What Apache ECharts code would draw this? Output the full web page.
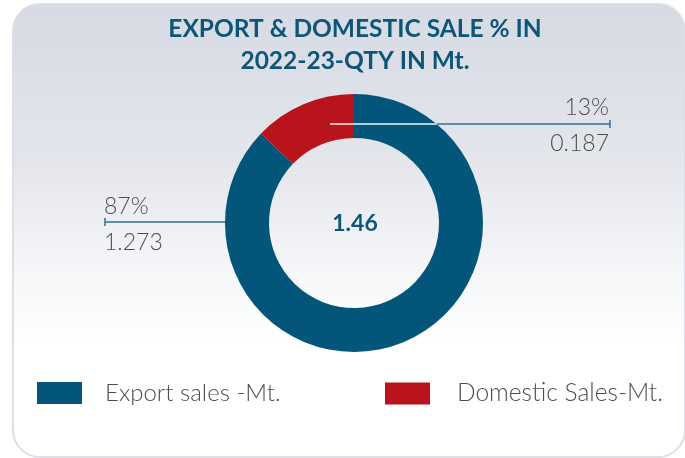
<!DOCTYPE html>
<html>
<head>
<meta charset="utf-8">
<script src="https://cdn.jsdelivr.net/npm/echarts@6/dist/echarts.min.js"></script>
<style>
  html, body { margin: 0; padding: 0; background: #ffffff; width: 685px; height: 458px; overflow: hidden; }
  #card {
    position: absolute; left: 12px; top: 3px; width: 670px; height: 451px;
    border: 2px solid #dcdee8; border-radius: 28px;
    background: linear-gradient(to bottom, #d6dae3 0%, #e4e6ec 35%, #f6f7f9 60%, #ffffff 75%, #ffffff 100%);
  }
  #chart { position: absolute; left: 0; top: 0; width: 685px; height: 458px; }
</style>
</head>
<body>
<div id="card"></div>
<div id="chart"></div>
<script>
// Sales quantities for 2022-23, in million tonnes
const categories = ['Export sales -Mt.', 'Domestic Sales-Mt.'];
const quantities = [1.273, 0.187];
const colors = ['#03557a', '#b9141b'];
const titleText = 'EXPORT & DOMESTIC SALE % IN\n2022-23-QTY IN Mt.';

const total = quantities.reduce((a, b) => a + b, 0);

// Ring geometry
const CX = 354, CY = 223, R_IN = 85, R_OUT = 129;
const LINE_COLOR = '#33708f';
const TICK = 4;

const labelFont = { fontFamily: 'Lato', fontWeight: 300, fontSize: 23, color: '#4d4d4d', lineHeight: 36 };

// Guide line for the export slice: from the ring's left edge out to the left text block.
// Guide line for the domestic slice: starts inside the ring, runs right to the text block.
const exportY = CY - 1;
const domY = CY - 99;
const domStartX = CX - 24;
const domEdgeX = CX + Math.sqrt(R_OUT * R_OUT - 99 * 99);
const leftEndX = 105, rightEndX = 610;

function mainLayout(p) {
  if (p.dataIndex === 0) {
    return {
      x: leftEndX - 1, y: exportY + 3, align: 'left', verticalAlign: 'middle',
      labelLinePoints: [[leftEndX, exportY - TICK], [leftEndX, exportY + TICK], [leftEndX, exportY], [CX - R_OUT, exportY]]
    };
  }
  return {
    x: rightEndX - 1, y: domY + 2, align: 'right', verticalAlign: 'middle',
    labelLinePoints: [[domEdgeX, domY], [rightEndX, domY], [rightEndX, domY - TICK], [rightEndX, domY + TICK]]
  };
}

function overlayLayout(p) {
  return {
    x: rightEndX - 1, y: domY + 2, align: 'right', verticalAlign: 'middle',
    labelLinePoints: [[domStartX, domY], [domEdgeX, domY]]
  };
}

const chart = echarts.init(document.getElementById('chart'), null, { renderer: 'canvas' });

const legendBase = {
  top: 381, itemWidth: 45, itemHeight: 22, icon: 'rect', selectedMode: false, padding: 0,
  textStyle: { fontFamily: 'Lato', fontWeight: 300, fontSize: 24, color: '#4d4d4d' }
};

chart.setOption({
  animation: false,
  title: [
    {
      text: titleText, left: CX + 1, top: 13, padding: 0, textAlign: 'center',
      textStyle: { fontFamily: 'Lato', fontWeight: 'bold', fontSize: 24.5, color: '#0d5677', lineHeight: 32 }
    },
    {
      text: total.toFixed(2), left: CX + 1, top: CY + 1, padding: 0,
      textAlign: 'center', textVerticalAlign: 'middle',
      textStyle: { fontFamily: 'Lato', fontWeight: 'bold', fontSize: 23, color: '#0d5677' }
    }
  ],
  legend: [
    Object.assign({}, legendBase, { left: 37, data: [categories[0]],
      textStyle: Object.assign({}, legendBase.textStyle, { padding: [0, 0, 0, 18] }) }),
    Object.assign({}, legendBase, { left: 385, data: [categories[1]],
      textStyle: Object.assign({}, legendBase.textStyle, { fontSize: 24.5, padding: [0, 0, 0, 22] }) })
  ],
  series: [
    {
      type: 'pie',
      center: [CX, CY],
      radius: [R_IN, R_OUT],
      startAngle: 90,
      clockwise: true,
      silent: true,
      emphasis: { disabled: true },
      data: categories.map((name, i) => ({ name, value: quantities[i], itemStyle: { color: colors[i] } })),
      label: {
        show: true,
        formatter: p => `{p|${Math.round(p.percent)}%}\n{v|${quantities[p.dataIndex]}}`,
        rich: { p: labelFont, v: labelFont }
      },
      labelLine: { show: true, lineStyle: { color: LINE_COLOR, width: 1.5 } },
      labelLayout: mainLayout
    },
    {
      type: 'pie',
      center: [CX, CY],
      radius: [R_IN, R_OUT],
      startAngle: 90,
      clockwise: true,
      silent: true,
      z: 5,
      emphasis: { disabled: true },
      data: categories.map((name, i) => ({
        name, value: quantities[i],
        itemStyle: { color: 'rgba(0,0,0,0)' },
        label: { show: i === 1 },
        labelLine: { show: i === 1 }
      })),
      label: {
        show: true,
        formatter: p => `{p|${Math.round(p.percent)}%}\n{v|${quantities[p.dataIndex]}}`,
        rich: { p: Object.assign({}, labelFont, { color: 'rgba(0,0,0,0)' }), v: Object.assign({}, labelFont, { color: 'rgba(0,0,0,0)' }) }
      },
      labelLine: { show: true, lineStyle: { color: '#f2f3f6', width: 1.5 } },
      labelLayout: overlayLayout
    }
  ]
});
</script>
</body>
</html>
